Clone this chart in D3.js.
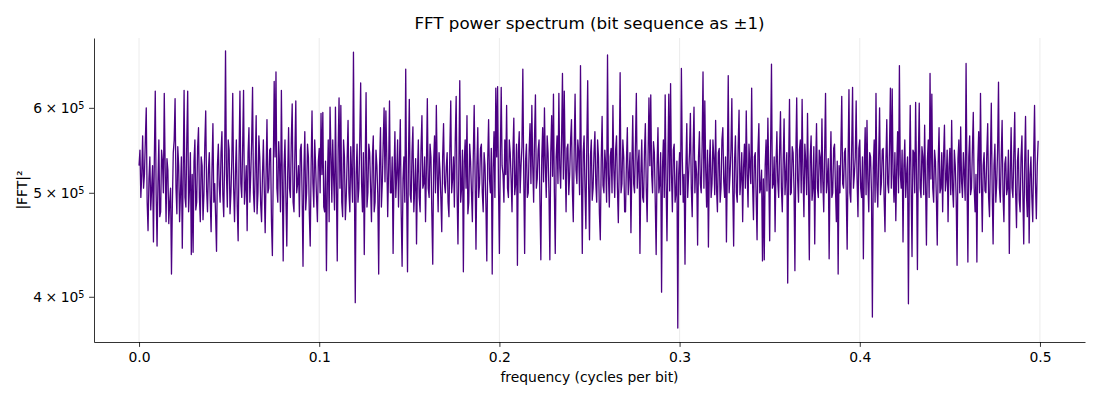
<!DOCTYPE html>
<html>
<head>
<meta charset="utf-8">
<script src="https://cdn.jsdelivr.net/npm/d3@7"></script>
<style>
  body { margin: 0; background: #fff; }
  text { font-family: "DejaVu Sans", sans-serif; }
</style>
</head>
<body>
<div id="chart"></div>
<script>
// FFT power spectrum values, in thousands (|FFT|^2 / 1000), one per frequency bin
var freqStart = 0.0;
var freqStep = 0.0005;
var powerK = [
  530,548,495,520,565,505,520,560,600,490,461,515,540,482,505,530,450,540,622,498,
  446,512,560,475,480,548,535,500,619,527,470,538,525,468,490,505,420,488,545,560,
  612,505,478,552,530,470,500,540,444,518,623,495,485,560,622,480,505,545,438,520,
  440,535,560,482,490,550,575,495,470,540,530,472,498,555,596,503,480,525,545,492,
  460,528,580,490,510,475,441,530,555,508,490,545,570,498,475,535,678,520,485,560,
  548,478,500,538,619,505,470,522,560,485,451,540,622,510,495,552,623,488,505,530,
  461,545,575,490,520,558,627,500,480,530,590,478,500,565,540,488,470,520,560,505,
  459,520,585,500,505,548,550,470,437,525,635,540,648,505,490,558,530,480,623,515,
  432,530,560,495,446,520,575,505,495,560,605,490,480,545,609,500,510,530,475,548,
  555,498,427,525,570,482,500,555,540,478,446,530,596,510,485,560,530,495,470,535,
  550,500,593,520,594,485,480,535,423,510,560,470,601,545,490,560,515,482,601,510,
  432,548,613,505,603,490,475,560,540,472,495,538,584,500,480,552,520,490,676,520,
  395,520,555,490,505,560,633,510,480,545,438,530,620,485,500,555,545,505,470,540,
  565,480,490,548,530,498,420,530,575,485,510,555,600,512,596,540,475,525,609,500,
  500,540,439,520,570,495,520,560,485,530,585,478,427,515,540,490,652,505,422,535,
  611,498,490,545,576,480,505,538,448,520,560,495,480,550,590,505,510,540,470,528,
  612,505,495,555,540,478,429,535,565,500,603,520,480,545,525,495,460,540,580,510,
  500,528,545,490,475,550,609,500,515,540,485,560,615,500,448,530,636,490,505,548,
  422,535,560,505,590,478,490,555,535,500,470,540,603,520,443,530,575,495,510,550,
  555,500,480,545,530,488,432,535,585,515,500,550,420,528,570,495,626,540,628,505,
  439,540,627,530,520,490,560,520,603,505,495,560,545,515,480,545,587,498,510,555,
  428,545,570,500,530,552,652,520,439,535,555,495,500,548,580,510,603,530,490,565,
  617,505,515,548,560,490,433,538,575,512,600,530,495,565,545,500,433,545,590,518,
  618,500,439,540,565,510,619,528,505,560,646,515,622,535,480,550,555,498,520,560,
  585,502,470,548,618,525,510,560,545,498,657,520,439,545,565,505,463,555,636,510,
  452,540,560,492,505,545,570,510,490,560,540,478,452,535,589,508,500,548,530,490,
  672,520,485,540,550,500,603,525,495,548,565,505,469,530,647,500,510,560,540,480,
  480,535,575,498,520,545,459,528,590,510,500,555,619,505,530,548,439,520,560,495,
  490,545,580,505,470,540,613,530,617,520,500,558,545,490,438,530,575,500,510,545,
  404,528,560,495,617,510,451,535,618,502,632,520,480,548,555,490,500,535,374,520,
  545,498,653,540,490,520,429,528,580,495,520,545,593,505,475,550,601,500,535,520,
  447,540,570,510,500,552,648,505,609,525,485,548,445,530,560,495,510,560,540,498,
  584,505,480,545,550,490,505,560,575,512,495,540,450,528,643,500,520,548,612,505,
  446,535,565,500,490,552,597,498,515,545,470,528,555,505,596,520,485,555,530,510,
  626,510,472,540,545,495,452,548,580,500,505,525,432,515,433,530,560,502,587,520,
  451,548,659,505,510,540,460,530,570,512,495,548,595,505,480,535,586,498,520,545,
  412,530,611,498,500,552,545,505,423,540,613,515,490,548,560,500,611,520,475,555,
  535,498,593,510,433,540,565,492,505,552,448,528,580,505,495,548,540,500,586,512,
  480,545,619,500,515,538,434,520,570,495,500,550,555,505,470,535,420,530,500,548,
  615,510,505,545,550,498,443,535,624,500,490,548,627,505,520,540,609,515,475,550,
  560,505,495,540,434,530,575,498,584,512,480,545,540,500,383,528,560,490,619,510,
  485,540,600,498,510,548,550,495,460,535,585,510,500,552,626,505,625,520,490,545,
  471,528,570,500,657,520,505,548,450,530,560,495,520,540,394,520,603,505,436,548,
  545,500,607,520,424,538,606,505,495,552,540,498,578,510,447,535,560,495,646,515,
  618,505,490,548,535,495,447,532,575,500,505,545,480,540,578,502,515,548,470,528,
  550,498,584,505,485,548,530,495,428,538,560,500,576,512,495,545,520,492,660,515,
  431,540,565,498,505,548,594,505,480,520,431,535,570,500,619,515,460,530,545,502,
  500,545,580,495,475,538,606,500,448,530,555,490,510,548,634,505,490,540,584,498,
  470,532,540,498,505,548,439,520,575,505,495,545,594,500,464,535,550,492,480,540,
  565,500,448,530,589,498,475,548,449,520,540,495,470,540,603,510,473,530,559
];
var xTicks = [0.0, 0.1, 0.2, 0.3, 0.4, 0.5];
var yTicks = [4e5, 5e5, 6e5];

var data = powerK.map(function(v, i) {
  return { f: freqStart + i * freqStep, p: v * 1000 };
});

var svgWidth = 1100;
var svgHeight = 400;
var margin = { top: 38, right: 15, bottom: 58, left: 94 };
var width = svgWidth - margin.left - margin.right;
var height = svgHeight - margin.top - margin.bottom;

var svg = d3.select("#chart")
  .append("svg")
  .attr("width", svgWidth)
  .attr("height", svgHeight);

var chartGroup = svg.append("g")
  .attr("transform", `translate(${margin.left}, ${margin.top})`);

var xScale = d3.scaleLinear()
  .domain([-0.025, 0.525])
  .range([0, width]);
var yScale = d3.scaleLog()
  .domain([363000, 697000])
  .range([height, 0]);

// vertical grid
chartGroup.append("g")
  .selectAll("line")
  .data(xTicks)
  .enter()
  .append("line")
  .attr("x1", d => xScale(d))
  .attr("x2", d => xScale(d))
  .attr("y1", 0)
  .attr("y2", height)
  .attr("stroke", "#b0b0b0")
  .attr("stroke-opacity", 0.3)
  .attr("stroke-width", 0.8);

// spectrum line
var line = d3.line()
  .x(d => xScale(d.f))
  .y(d => yScale(d.p));
chartGroup.append("path")
  .datum(data)
  .attr("d", line)
  .attr("fill", "none")
  .attr("stroke", "#4b0082")
  .attr("stroke-width", 1.3)
  .attr("stroke-linejoin", "round");

// axes
var bottomAxis = d3.axisBottom(xScale)
  .tickValues(xTicks)
  .tickFormat(d3.format(".1f"))
  .tickSizeInner(4.9)
  .tickSizeOuter(0)
  .tickPadding(4.9);
var xAxisG = chartGroup.append("g")
  .attr("transform", `translate(0, ${height})`)
  .call(bottomAxis);

var leftAxis = d3.axisLeft(yScale)
  .tickValues(yTicks)
  .tickFormat("")
  .tickSizeInner(4.9)
  .tickSizeOuter(0);
var yAxisG = chartGroup.append("g")
  .call(leftAxis);

[xAxisG, yAxisG].forEach(function(g) {
  g.select(".domain").attr("stroke", "#000").attr("stroke-width", 0.8);
  g.selectAll(".tick line").attr("stroke", "#000").attr("stroke-width", 0.8);
  g.selectAll("text").attr("font-size", "13.9px").attr("fill", "#000")
    .attr("font-family", "DejaVu Sans, sans-serif");
});

// y tick labels as  m × 10^5
yAxisG.selectAll(".tick").each(function(d) {
  var t = d3.select(this).append("text")
    .attr("x", -9.5)
    .attr("dy", "0.36em")
    .attr("text-anchor", "end")
    .attr("fill", "#000")
    .attr("font-size", "13.9px");
  t.append("tspan").text((d / 1e5) + "\u2005\u00d7\u200510");
  t.append("tspan")
    .attr("dy", "-0.45em")
    .attr("font-size", "9.7px")
    .text("5");
});

// labels
svg.append("text")
  .attr("x", margin.left + width / 2)
  .attr("y", 29)
  .attr("text-anchor", "middle")
  .attr("font-size", "16.7px")
  .attr("fill", "#000")
  .text("FFT power spectrum (bit sequence as \u00b11)");

svg.append("text")
  .attr("x", margin.left + width / 2)
  .attr("y", 382)
  .attr("text-anchor", "middle")
  .attr("font-size", "13.9px")
  .attr("fill", "#000")
  .text("frequency (cycles per bit)");

svg.append("text")
  .attr("transform", `translate(27, ${margin.top + height / 2}) rotate(-90)`)
  .attr("text-anchor", "middle")
  .attr("font-size", "13.9px")
  .attr("fill", "#000")
  .text("|FFT|\u00b2");
</script>
</body>
</html>
